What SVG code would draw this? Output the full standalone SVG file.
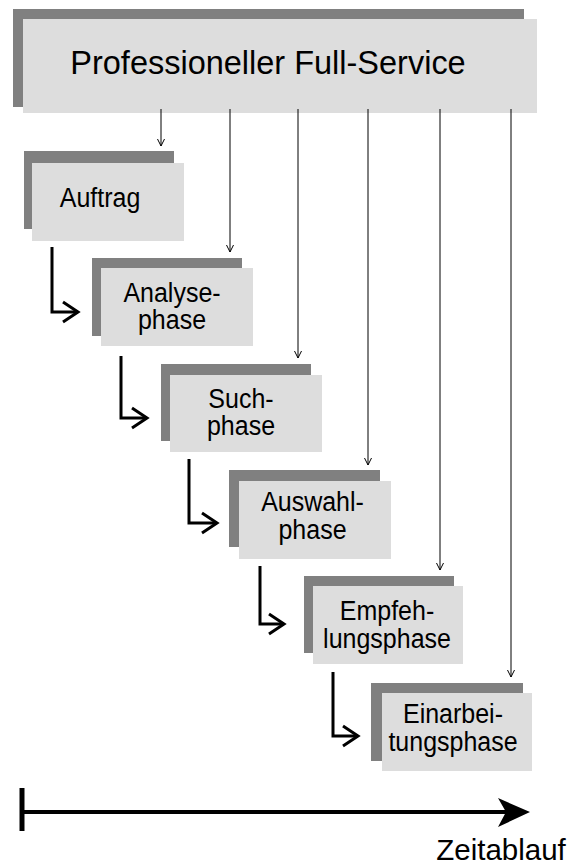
<svg xmlns="http://www.w3.org/2000/svg" width="571" height="867" viewBox="0 0 571 867">
<style>
.shadow{fill:#808080}
.face{fill:#dddddd}
text{font-family:"Liberation Sans",Arial,sans-serif;fill:#000;text-anchor:middle}
.lbl{font-size:25px}
.title{font-size:32.5px}
.thin{fill:none;stroke:#000;stroke-width:1}
.thick{fill:none;stroke:#000;stroke-width:3}
</style>
<defs>
<marker id="ah" markerUnits="userSpaceOnUse" viewBox="0 0 7 8" markerWidth="7" markerHeight="8" refX="7" refY="4" orient="auto" overflow="visible">
<path d="M0,0.5 L7,4 L0,7.5" fill="none" stroke="#000" stroke-width="1"/>
</marker>
<marker id="ch" markerUnits="userSpaceOnUse" viewBox="0 0 18 22" markerWidth="18" markerHeight="22" refX="16" refY="11" orient="auto" overflow="visible">
<path d="M1,1 L16,11 L1,21" fill="none" stroke="#000" stroke-width="3"/>
</marker>
</defs>

<g id="full-service">
<rect class="shadow" x="13" y="9" width="511" height="98"/>
<rect class="face" x="23" y="19" width="514" height="94"/>
<text class="title" transform="translate(268,74) scale(1,1.04)">Professioneller Full-Service</text>
</g>

<g id="auftrag">
<rect class="shadow" x="24" y="151" width="150" height="78"/>
<rect class="face" x="32" y="163" width="152" height="78"/>
<text class="lbl" transform="translate(100,207) scale(1,1.07)">Auftrag</text>
</g>

<g id="analysephase">
<rect class="shadow" x="92" y="258" width="150" height="78"/>
<rect class="face" x="101" y="268" width="152" height="78"/>
<text class="lbl" transform="translate(172,302) scale(1,1.07)">Analyse-</text>
<text class="lbl" transform="translate(172,329) scale(1,1.07)">phase</text>
</g>

<g id="suchphase">
<rect class="shadow" x="161" y="364" width="150" height="77"/>
<rect class="face" x="170" y="375" width="152" height="77"/>
<text class="lbl" transform="translate(241,408) scale(1,1.07)">Such-</text>
<text class="lbl" transform="translate(241,435) scale(1,1.07)">phase</text>
</g>

<g id="auswahlphase">
<rect class="shadow" x="229" y="470" width="151" height="77"/>
<rect class="face" x="239" y="481" width="152" height="78"/>
<text class="lbl" transform="translate(312.5,511) scale(1,1.07)">Auswahl-</text>
<text class="lbl" transform="translate(312.5,539) scale(1,1.07)">phase</text>
</g>

<g id="empfehlungsphase">
<rect class="shadow" x="304" y="576" width="150" height="77"/>
<rect class="face" x="313" y="586" width="150" height="78"/>
<text class="lbl" transform="translate(387,620) scale(1,1.07)">Empfeh-</text>
<text class="lbl" transform="translate(387,648) scale(1,1.07)">lungsphase</text>
</g>

<g id="einarbeitungsphase">
<rect class="shadow" x="371" y="683" width="152" height="78"/>
<rect class="face" x="382" y="693" width="150" height="78"/>
<text class="lbl" transform="translate(453,723) scale(1,1.07)">Einarbei-</text>
<text class="lbl" transform="translate(453,751) scale(1,1.07)">tungsphase</text>
</g>

<g id="connectors">
<path class="thin" marker-end="url(#ah)" d="M161,109 V146"/>
<path class="thin" marker-end="url(#ah)" d="M230,109 V252"/>
<path class="thin" marker-end="url(#ah)" d="M298,109 V358"/>
<path class="thin" marker-end="url(#ah)" d="M368,109 V465"/>
<path class="thin" marker-end="url(#ah)" d="M440,109 V570"/>
<path class="thin" marker-end="url(#ah)" d="M511,109 V677"/>
<path class="thick" marker-end="url(#ch)" d="M52,247 V312 H78"/>
<path class="thick" marker-end="url(#ch)" d="M121,356 V418 H147"/>
<path class="thick" marker-end="url(#ch)" d="M189,459 V523 H217"/>
<path class="thick" marker-end="url(#ch)" d="M260,566 V624 H284"/>
<path class="thick" marker-end="url(#ch)" d="M333,672 V736 H358"/>
</g>

<g id="zeitachse">
<line x1="22" y1="788" x2="22" y2="831" stroke="#000" stroke-width="5"/>
<line x1="22" y1="812" x2="506" y2="812" stroke="#000" stroke-width="4"/>
<path d="M498,798 L530,812 L498,827 L506,812 Z" fill="#000"/>
<text x="501" y="860" font-size="29.5">Zeitablauf</text>
</g>
</svg>
